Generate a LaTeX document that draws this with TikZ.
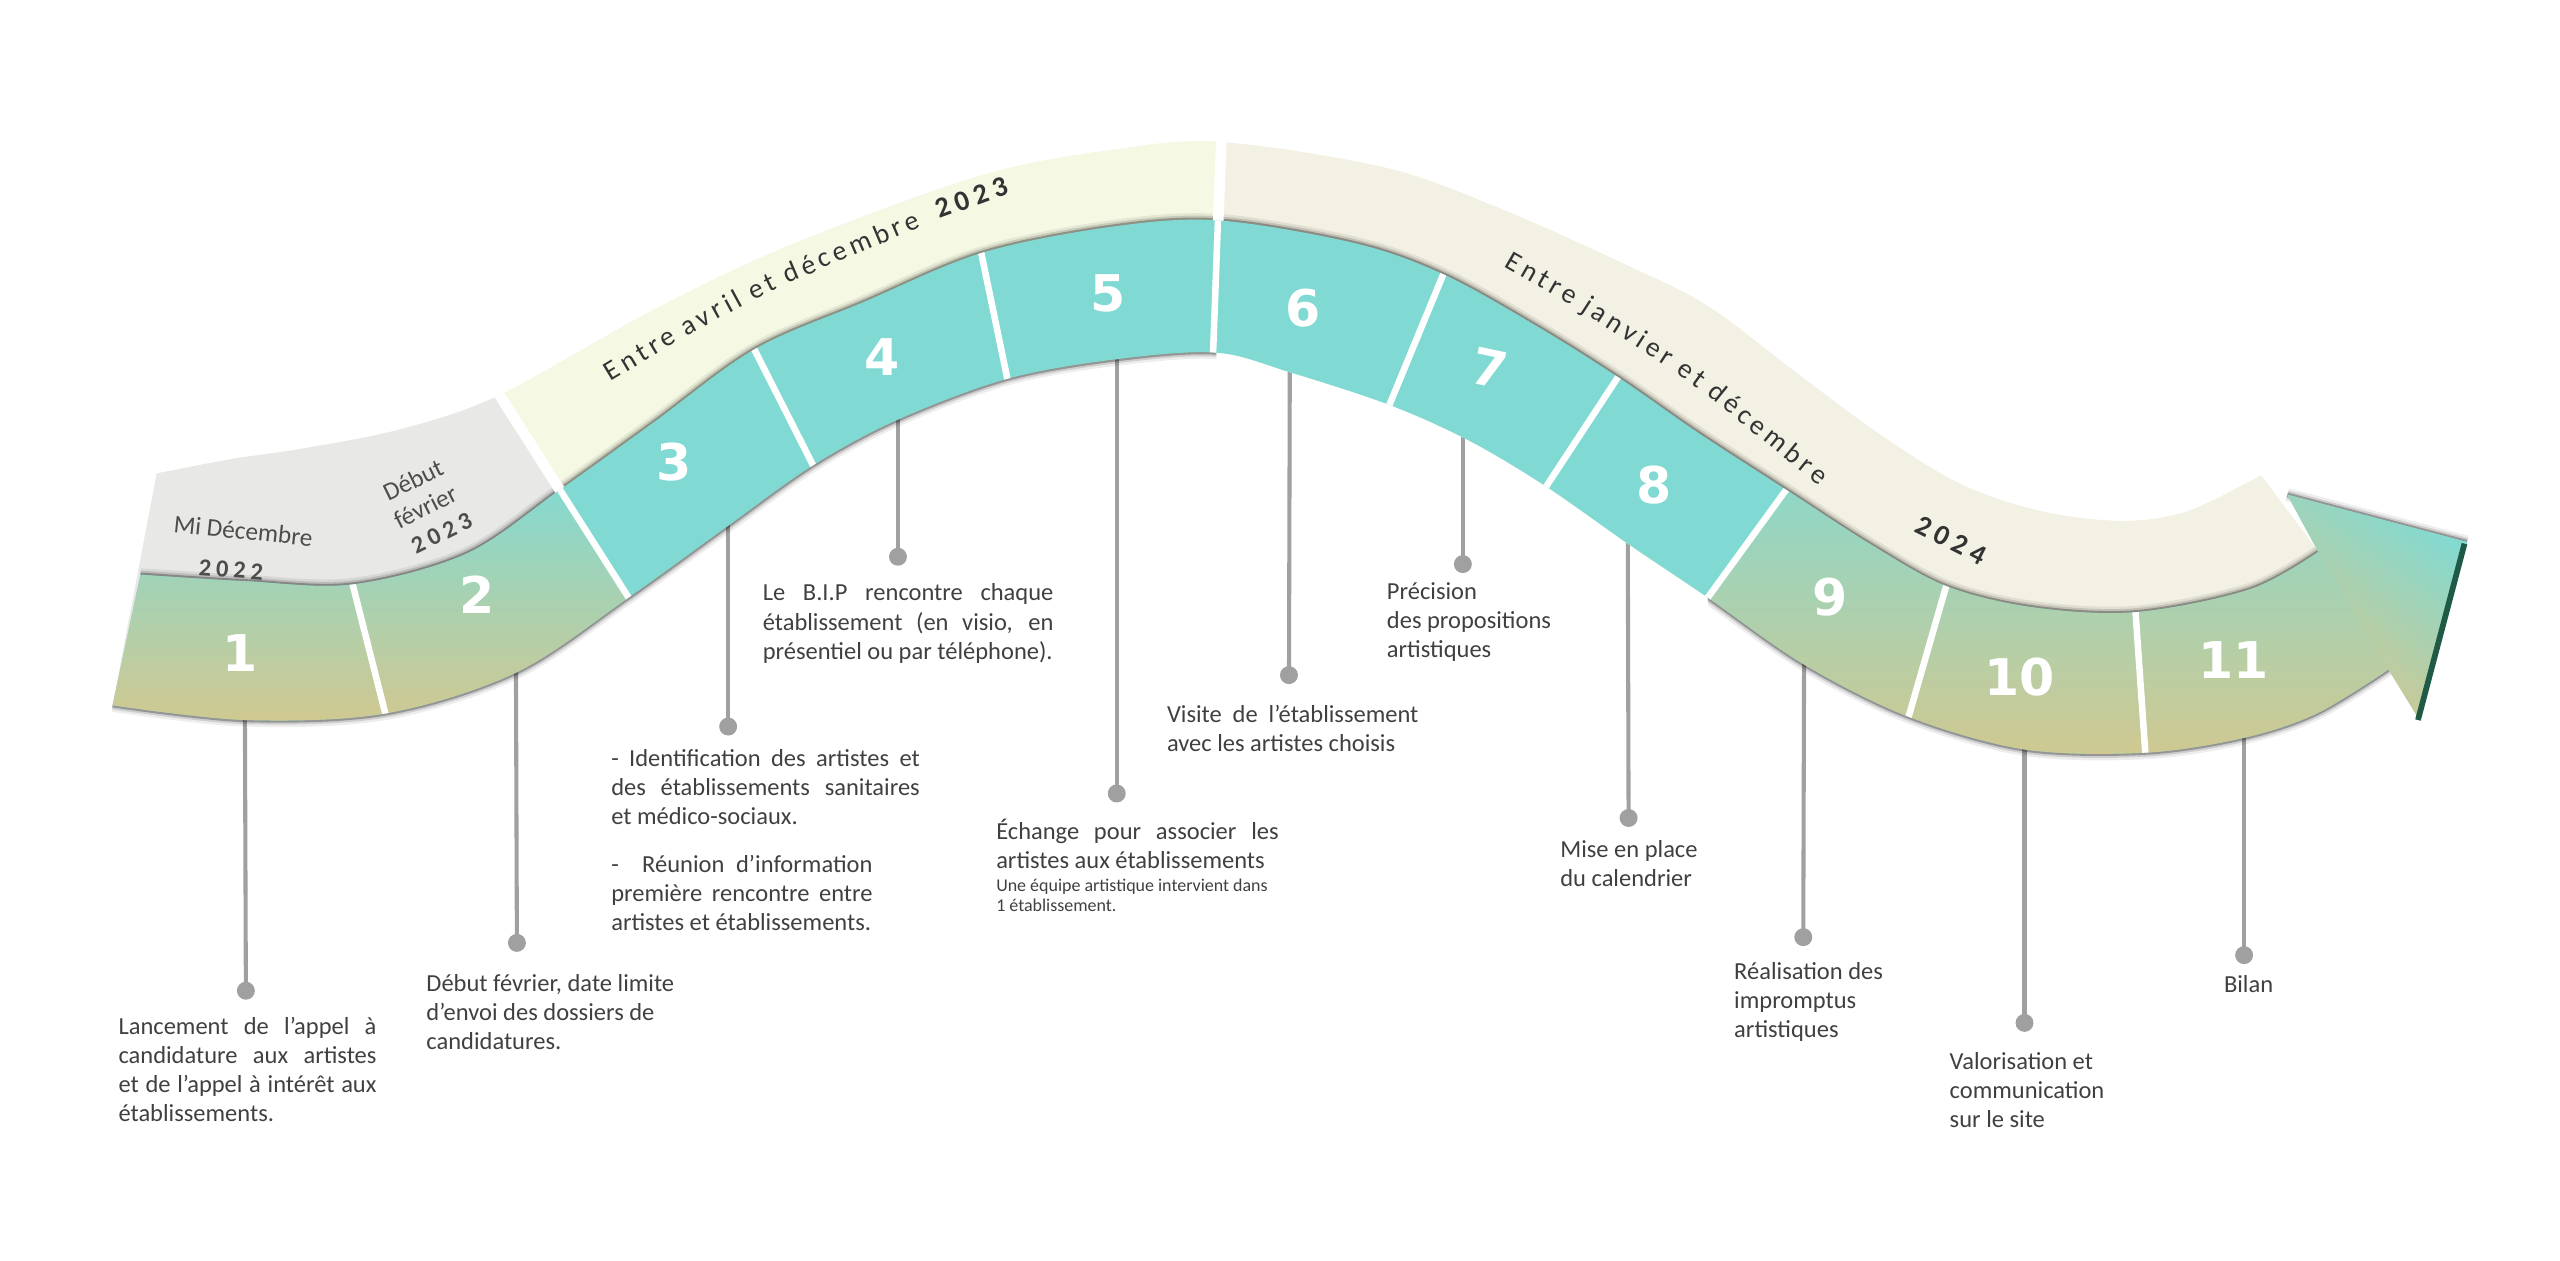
\documentclass[tikz,border=0pt]{standalone}
\usepackage{fontspec}
\setmainfont{Carlito}
\newfontfamily\numfont{DejaVu Sans}
\newfontfamily\phrasefont[LetterSpace=16]{Carlito}
\newfontfamily\yearfont[LetterSpace=20]{Carlito}
\usetikzlibrary{calc}
\definecolor{tealc}{HTML}{80DAD3}
\definecolor{tanc}{HTML}{DFC584}
\definecolor{greyband}{HTML}{E8E8E6}
\definecolor{yelband}{HTML}{F5F9E4}
\definecolor{beigeband}{HTML}{F3F1E3}
\definecolor{txt}{HTML}{404040}
\definecolor{linec}{HTML}{A0A0A0}
\definecolor{lbl}{HTML}{333333}
\definecolor{glbl}{HTML}{4D4D4D}
\definecolor{darkg}{HTML}{1E5A46}
\newcommand\firstln{\rule{0pt}{14pt}}
\newcommand\jline[2]{\makebox[#1][s]{#2}}
\newcommand\wsp{\rule{6pt}{0pt}}
\def\topedge{plot[smooth,tension=0.55] coordinates {(86,352) (150,356) (216,358) (286,339) (343,300) (400,259) (462,214) (529,185) (601,155) (680,139) (746,135) (830,149) (884,168) (940,199) (991,231) (1040,265) (1094,300) (1145,333) (1192,359) (1245,372) (1308,375) (1378,361) (1420,338)}}
\def\botedge{plot[smooth,tension=0.55] coordinates {(1463,410) (1419,437) (1374,452) (1314,461) (1240,459) (1169,439) (1105,407) (1046,366) (997,333) (947,298) (900,270) (851,248) (790,228) (745,216) (684,220) (617,232) (550,257) (498,285) (446,322) (385,366) (316,412) (236,437) (150,441) (69,432)}}
\def\bandpath{(69,432) -- (86,352) -- plot[smooth,tension=0.55] coordinates {(86,352) (150,356) (216,358) (286,339) (343,300) (400,259) (462,214) (529,185) (601,155) (680,139) (746,135) (830,149) (884,168) (940,199) (991,231) (1040,265) (1094,300) (1145,333) (1192,359) (1245,372) (1308,375) (1378,361) (1420,338)} -- (1401,303) -- (1511,332) -- (1482,441) -- (1463,410) -- plot[smooth,tension=0.55] coordinates {(1463,410) (1419,437) (1374,452) (1314,461) (1240,459) (1169,439) (1105,407) (1046,366) (997,333) (947,298) (900,270) (851,248) (790,228) (745,216) (684,220) (617,232) (550,257) (498,285) (446,322) (385,366) (316,412) (236,437) (150,441) (69,432)} -- cycle}
\def\upperpath{(96,290) -- plot[smooth,tension=0.55] coordinates {(96,290) (143,281) (184,275) (245,263) (306,242) (400,190) (482,151) (599,108) (680,92) (748,87) (850,103) (922,129) (1000,164) (1047,188) (1100,228) (1150,265) (1200,296) (1250,313) (1300,319) (1340,313) (1385,291)} -- (1420,338) -- (1463,410) -- plot[smooth,tension=0.55] coordinates {(1463,410) (1419,437) (1374,452) (1314,461) (1240,459) (1169,439) (1105,407) (1046,366) (997,333) (947,298) (900,270) (851,248) (790,228) (745,216) (684,220) (617,232) (550,257) (498,285) (446,322) (385,366) (316,412) (236,437) (150,441) (69,432)} -- cycle}
\begin{document}
\begin{tikzpicture}[x=1pt,y=-1pt,
  body/.style={font=\fontsize{15}{17.8}\selectfont, text=txt, align=left, inner sep=0pt, anchor=north west},
  small/.style={font=\fontsize{11}{12.5}\selectfont, text=txt, align=left, inner sep=0pt, anchor=north west},
  dot/.style={circle, fill=linec, inner sep=0pt, minimum size=11pt},
  conn/.style={draw=linec, line width=2.5pt},
  num/.style={text=white, font=\numfont\bfseries\fontsize{31}{31}\selectfont, inner sep=0pt},
  sepline/.style={white, line width=4pt, shorten <=-8pt, shorten >=-8pt},
  gapline/.style={white, line width=6.5pt},
  phrase/.style={font=\phrasefont\fontsize{17}{17}\selectfont, text=lbl, inner sep=0pt, anchor=base west},
  yearb/.style={font=\yearfont\bfseries\fontsize{17.5}{17.5}\selectfont, text=lbl, inner sep=0pt},
  greylbl/.style={font=\fontsize{15.5}{15.5}\selectfont, text=glbl, inner sep=0pt},
  greyyear/.style={font=\yearfont\bfseries\fontsize{15}{15}\selectfont, text=glbl, inner sep=0pt},
  shA/.style={draw=black, opacity=0.07, line width=8pt},
  shB/.style={draw=black, opacity=0.13, line width=5pt},
  shC/.style={draw=black, opacity=0.28, line width=2.6pt}
]
\useasboundingbox (0,0) rectangle (1568,771.75);

% connectors and dots
\coordinate (s1) at (150,436);
\coordinate (s2) at (316,405);
\coordinate (s3) at (446,315);
\coordinate (s4) at (550,250);
\coordinate (s5) at (684,214);
\coordinate (s6) at (790,222);
\coordinate (s7) at (896,262);
\coordinate (s8) at (997,326);
\coordinate (s9) at (1105,400);
\coordinate (s10) at (1240,452);
\coordinate (s11) at (1374.5,445);
\node[dot] (d1) at (150.6,606.8) {};
\node[dot] (d2) at (316.6,577.5) {};
\node[dot] (d3) at (446,445) {};
\node[dot] (d4) at (550,341) {};
\node[dot] (d5) at (684,486) {};
\node[dot] (d6) at (789.5,413.5) {};
\node[dot] (d7) at (896,345.5) {};
\node[dot] (d8) at (997.5,501) {};
\node[dot] (d9) at (1104.5,574) {};
\node[dot] (d10) at (1240,626.5) {};
\node[dot] (d11) at (1374.5,585) {};
\foreach \i in {1,...,11} \draw[conn] (s\i) -- (d\i.center);

% upper bands
\begin{scope}
  \clip \upperpath;
  \fill[beigeband] (0,0) rectangle (1568,772);
  \fill[yelband] (152,0) -- (751,0) -- (722.4,772) -- (643,772) -- cycle;
  \fill[greyband] (0,0) -- (152,0) -- (643,772) -- (0,772) -- cycle;
\end{scope}

% shadow along the top of the ribbon
\draw[shA] \topedge;
\draw[shB] \topedge;
\draw[shC] \topedge;
\draw[shA] (1401,303) -- (1511,332);
\draw[shB] (1401,303) -- (1511,332);
\draw[shC] (1401,303) -- (1511,332);

% white gaps in the upper band
\begin{scope}
  \clip \upperpath;
  \draw[gapline] (290,217) -- (390,374);
  \draw[gapline] (749.5,50) -- (743,216);
\end{scope}

% shadow along the bottom of the ribbon
\begin{scope}
  \clip (0,0) rectangle (745,772) (1046,0) rectangle (1568,772);
  \draw[shA] \botedge;
  \draw[shB] \botedge;
  \draw[shC] \botedge;
\end{scope}

% main ribbon
\fill[tealc] \bandpath;
\begin{scope}
  \clip \bandpath;
  \begin{scope}
    \clip (0,0) -- (152,0) -- (643,772) -- (0,772) -- cycle;
    \shade[top color=tealc, bottom color=tanc] (0,290) rectangle (700,470);
  \end{scope}
  \begin{scope}
    \clip (1312,0) -- (1568,0) -- (1568,772) -- (751,772) -- cycle;
    \shade[top color=tealc, bottom color=tanc] (1000,262) rectangle (1530,502);
  \end{scope}
  \begin{scope}
    \clip (1420,338) -- (1401,303) -- (1511,332) -- (1482,441) -- (1463,410) -- cycle;
    \shade[top color=tealc, bottom color=tanc, shading angle=-35] (1395,300) rectangle (1515,455);
  \end{scope}
  \draw[sepline] (216,358) -- (236,437);
  \draw[sepline] (343,300) -- (385,366);
  \draw[sepline] (462,214) -- (498,285);
  \draw[sepline] (601,155) -- (617,232);
  \draw[sepline] (746,135) -- (743,216);
  \draw[sepline] (884,168) -- (851,248);
  \draw[sepline] (991,231) -- (947,298);
  \draw[sepline] (1094,300) -- (1046,366);
  \draw[sepline] (1192,359) -- (1169,439);
  \draw[sepline] (1308,375) -- (1314,461);
\end{scope}
\draw[darkg, line width=3.5pt] (1509.5,333) -- (1481,441);

% numbers
\node[num] (n1) at (147,400) {1};
\node[num] (n2) at (292,364.5) {2};
\node[num] (n3) at (413,283) {3};
\node[num] (n4) at (540.5,218.5) {4};
\node[num] (n5) at (679,180) {5};
\node[num] (n6) at (798,188.5) {6};
\node[num, rotate=-12] (n7) at (912.5,225.5) {7};
\node[num] (n8) at (1013,297) {8};
\node[num] (n9) at (1121,365.5) {9};
\node[num] (n10) at (1237,414.5) {10};
\node[num] (n11) at (1368,404) {11};

% labels in the grey band
\node[greylbl, rotate=-6] (gl1) at (149,325) {Mi Décembre};
\node[greyyear, rotate=-4] (gl2) at (141.5,349) {2022};
\node[greylbl, rotate=26] (gl3) at (253,294) {Début};
\node[greylbl, rotate=27] (gl4) at (260.5,310.5) {février};
\node[greyyear, rotate=26] (gl5) at (270.5,326.6) {2023};

% labels in the yellow band
\node[phrase, rotate=31] (ya1) at (374,234) {Entre\wsp};
\node[phrase, rotate=28.5] (ya2) at (ya1.base east) {avril\wsp};
\node[phrase, rotate=26] (ya3) at (ya2.base east) {et\wsp};
\node[phrase, rotate=23] (ya4) at (ya3.base east) {décembre\rule{12pt}{0pt}};
\node[yearb, anchor=base west, rotate=20] (ya5) at (ya4.base east) {2023};

% labels in the beige band
\node[phrase, rotate=-30] (bj1) at (921,163) {Entre\wsp};
\node[phrase, rotate=-33] (bj2) at (bj1.base east) {janvier\wsp};
\node[phrase, rotate=-36] (bj3) at (bj2.base east) {et\wsp};
\node[phrase, rotate=-39] (bj4) at (bj3.base east) {décembre};
\node[yearb, rotate=-27] (bj5) at (1195,331) {2024};

% descriptions
\node[body] (t1) at (72.4,619.3) {\firstln\jline{158pt}{Lancement de l’appel à}\\
  \jline{158pt}{candidature aux artistes}\\
  \jline{158pt}{et de l’appel à intérêt aux}\\
  établissements.};
\node[body] (t2) at (261,592.8) {\firstln Début février, date limite\\
  d’envoi des dossiers de\\
  candidatures.};
\node[body] (t3) at (374.2,455) {\firstln\jline{189pt}{- Identification des artistes et}\\
  \jline{189pt}{des établissements sanitaires}\\
  et médico-sociaux.\\[12pt]
  \jline{160pt}{- \ Réunion d’information}\\
  \jline{160pt}{première rencontre entre}\\
  artistes et établissements.};
\node[body] (t4) at (467,353.9) {\firstln\jline{178pt}{Le B.I.P rencontre chaque}\\
  \jline{178pt}{établissement (en visio, en}\\
  présentiel ou par téléphone).};
\node[body] (t5) at (610,499.9) {\firstln\jline{173pt}{Échange pour associer les}\\
  artistes aux établissements};
\node[small] (t5b) at (610,535.6) {\rule{0pt}{10pt}Une équipe artistique intervient dans\\
  1 établissement.};
\node[body] (t6) at (714.6,428.5) {\firstln\jline{154pt}{Visite de l’établissement}\\
  avec les artistes choisis};
\node[body] (t7) at (849.3,352.9) {\firstln Précision\\ des propositions\\ artistiques};
\node[body] (t8) at (955.5,511.2) {\firstln Mise en place\\ du calendrier};
\node[body] (t9) at (1062,585.7) {\firstln Réalisation des\\ impromptus\\ artistiques};
\node[body] (t10) at (1194,640.8) {\firstln Valorisation et\\ communication\\ sur le site};
\node[body] (t11) at (1362,593.5) {\firstln Bilan};
\end{tikzpicture}
\end{document}
